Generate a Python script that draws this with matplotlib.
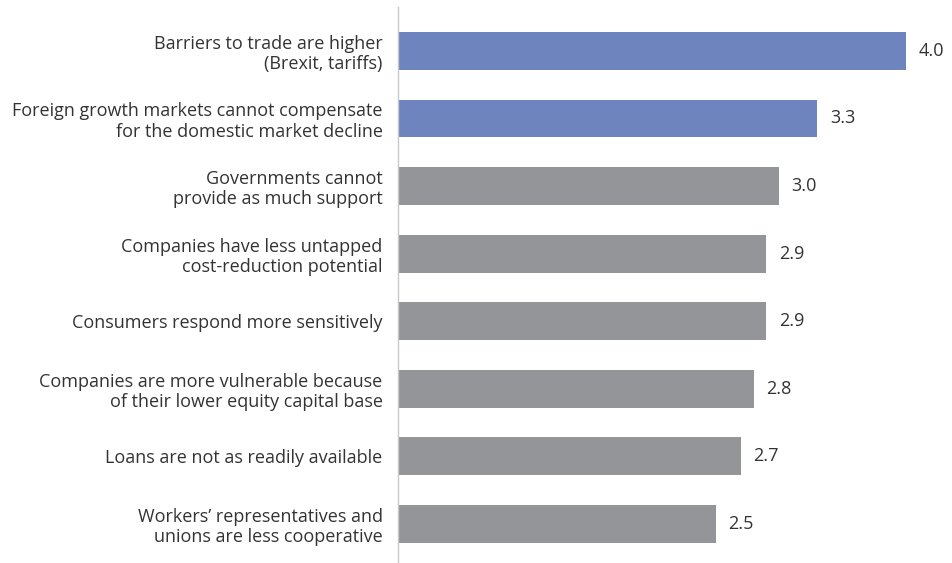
import matplotlib.pyplot as plt

plt.rcParams['font.family'] = ['Open Sans', 'DejaVu Sans']

categories = [
    "Barriers to trade are higher\n(Brexit, tariffs)",
    "Foreign growth markets cannot compensate\nfor the domestic market decline",
    "Governments cannot\nprovide as much support",
    "Companies have less untapped\ncost-reduction potential",
    "Consumers respond more sensitively",
    "Companies are more vulnerable because\nof their lower equity capital base",
    "Loans are not as readily available",
    "Workers\u2019 representatives and\nunions are less cooperative",
]
values = [4.0, 3.3, 3.0, 2.9, 2.9, 2.8, 2.7, 2.5]
highlighted = [True, True, False, False, False, False, False, False]

blue = '#6d84bf'
grey = '#939598'
text_color = '#333333'

fig = plt.figure(figsize=(9.52, 5.63), dpi=100)
ax = fig.add_axes([398 / 952, 0, 554 / 952, 1 - 7 / 563])

ypos = list(range(len(values)))
colors = [blue if h else grey for h in highlighted]
ax.barh(ypos, values, height=0.56, color=colors)

for y, v in zip(ypos, values):
    ax.text(v + 0.1, y, f"{v:.1f}", va='center', ha='left',
            fontsize=13, color=text_color)

ax.set_xlim(0, 554 / 127)
ax.set_ylim(7.58, -0.65)
ax.set_yticks(ypos)
ax.set_yticklabels(categories, fontsize=13, color=text_color, linespacing=1.15)
ax.tick_params(axis='y', length=0, pad=11)
ax.set_xticks([])

for side in ['top', 'right', 'bottom']:
    ax.spines[side].set_visible(False)
ax.spines['left'].set_color('#c8c8c8')
ax.spines['left'].set_linewidth(1)

fig.savefig('out.png', dpi=100)
